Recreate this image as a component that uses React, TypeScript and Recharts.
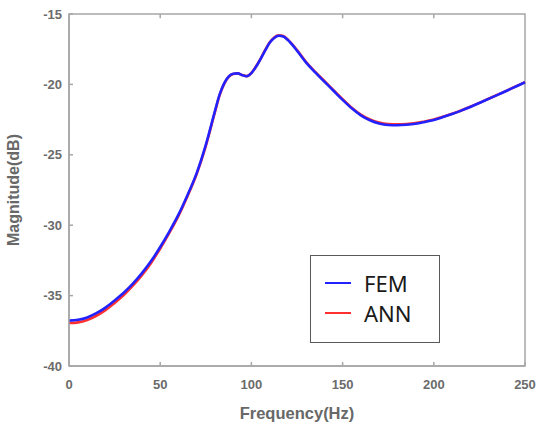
import React from "react";
import { LineChart, Line, XAxis, YAxis, ReferenceArea, ReferenceLine } from "recharts";

const freq = [
  0, 5, 10, 15, 20, 25, 30, 35, 40, 45, 50, 55, 60, 65, 70, 75, 80, 82.5, 85, 87.5, 90, 92.5, 95, 97.5,
  100, 102.5, 105, 107.5, 110, 112.5, 115, 117.5, 120, 125, 130, 135, 140, 145, 150, 155, 160, 165,
  170, 175, 180, 185, 190, 195, 200, 205, 210, 215, 220, 225, 230, 235, 240, 245, 250,
];

const fem = [
  -36.78, -36.72, -36.55, -36.25, -35.85, -35.35, -34.8, -34.15, -33.4, -32.55, -31.55, -30.45, -29.25,
  -27.85, -26.3, -24.3, -21.9, -20.75, -19.95, -19.45, -19.25, -19.22, -19.35, -19.42, -19.2, -18.75,
  -18.2, -17.6, -17.05, -16.7, -16.55, -16.6, -16.85, -17.6, -18.45, -19.15, -19.8, -20.45, -21.1,
  -21.7, -22.2, -22.55, -22.78, -22.88, -22.9, -22.87, -22.8, -22.67, -22.52, -22.32, -22.1, -21.86,
  -21.6, -21.32, -21.03, -20.74, -20.45, -20.15, -19.85,
];

const ann = [
  -36.95, -36.9, -36.73, -36.43, -36.03, -35.52, -34.97, -34.3, -33.55, -32.68, -31.66, -30.55, -29.34,
  -27.92, -26.36, -24.38, -21.98, -20.8, -19.98, -19.47, -19.26, -19.22, -19.34, -19.41, -19.19, -18.73,
  -18.18, -17.57, -17.02, -16.67, -16.52, -16.57, -16.82, -17.56, -18.41, -19.11, -19.76, -20.41, -21.05,
  -21.65, -22.14, -22.49, -22.71, -22.81, -22.83, -22.81, -22.75, -22.63, -22.49, -22.3, -22.08, -21.85,
  -21.59, -21.31, -21.02, -20.73, -20.44, -20.14, -19.84,
];

const xTicks = [0, 50, 100, 150, 200, 250];
const yTicks = [-40, -35, -30, -25, -20, -15];

const series = [
  { key: "fem", name: "FEM", color: "#2222ff" },
  { key: "ann", name: "ANN", color: "#ff3030" },
];

const data = freq.map((f, i) => ({ f, fem: fem[i], ann: ann[i] }));

const axisColor = "#a6a6a6";
const font = "Liberation Sans, Arial, sans-serif";
const tickStyle = { fill: "#6b6b6b", fontSize: 13, fontWeight: 700, fontFamily: font };

export default function App() {
  return (
    <div style={{ position: "absolute", left: 0, top: 0, width: 539, height: 426, background: "#fff" }}>
      <LineChart width={539} height={426} data={data} margin={{ top: 14, right: 14, bottom: 0, left: 9 }}>
        <XAxis
          dataKey="f"
          type="number"
          domain={[0, 250]}
          ticks={xTicks}
          height={60}
          stroke={axisColor}
          strokeWidth={1.5}
          tickSize={-4}
          tickMargin={18}
          tick={tickStyle}
          label={{
            value: "Frequency(Hz)",
            position: "insideBottom",
            offset: 7,
            style: { fill: "#686868", fontSize: 16.5, fontWeight: 700, fontFamily: font },
          }}
        />
        <YAxis
          type="number"
          domain={[-40, -15]}
          ticks={yTicks}
          width={60}
          stroke={axisColor}
          strokeWidth={1.5}
          tickSize={-4}
          tickMargin={11}
          tick={tickStyle}
          label={{
            value: "Magnitude(dB)",
            angle: -90,
            position: "insideLeft",
            offset: 4,
            style: { textAnchor: "middle", fill: "#686868", fontSize: 16, fontWeight: 700, fontFamily: font },
          }}
        />
        <ReferenceArea x1={0} x2={250} y1={-40} y2={-15} fill="none" stroke={axisColor} strokeWidth={1.5} />
        {xTicks.slice(1, -1).map((t) => (
          <ReferenceLine
            key={t}
            segment={[{ x: t, y: -15 }, { x: t, y: -15.3 }]}
            stroke={axisColor}
            strokeWidth={1.5}
          />
        ))}
        {/* ANN drawn first so FEM sits on top, as in the reference */}
        {[...series].reverse().map((s) => (
          <Line
            key={s.key}
            dataKey={s.key}
            name={s.name}
            stroke={s.color}
            strokeWidth={2.6}
            dot={false}
            type="monotone"
            isAnimationActive={false}
          />
        ))}
      </LineChart>
      <div
        style={{
          position: "absolute",
          left: 310,
          top: 255,
          width: 130,
          height: 88,
          border: "1.5px solid #5a5a5a",
          background: "#fff",
          boxSizing: "border-box",
          paddingTop: 12,
          fontFamily: "Noto Sans, sans-serif",
        }}
      >
        {series.map((s) => (
          <div key={s.key} style={{ display: "flex", alignItems: "center", height: 30 }}>
            <div style={{ width: 26, height: 1.5, background: s.color, marginLeft: 14, marginRight: 13 }} />
            <span style={{ fontSize: 22, color: "#1a1a1a", lineHeight: "30px" }}>{s.name}</span>
          </div>
        ))}
      </div>
    </div>
  );
}
